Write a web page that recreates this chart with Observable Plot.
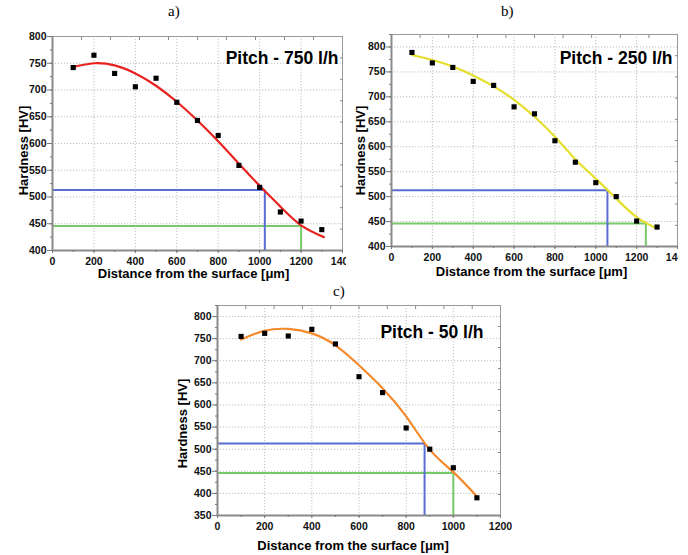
<!DOCTYPE html>
<html>
<head>
<meta charset="utf-8">
<script src="https://cdn.jsdelivr.net/npm/d3@7"></script>
<script src="https://cdn.jsdelivr.net/npm/@observablehq/plot@0.6"></script>
<style>
  html, body { margin: 0; padding: 0; background: #fff; }
  #root { position: relative; width: 688px; height: 555px; overflow: hidden; background: #fff; }
  .panel { position: absolute; overflow: hidden; }
  .tag { position: absolute; font-family: "Liberation Serif", "Times New Roman", serif; font-size: 15px; color: #000; }
</style>
</head>
<body>
<div id="root"></div>
<script>
// ---------- data ----------
const distances = [100, 200, 300, 400, 500, 600, 700, 800, 900, 1000, 1100, 1200, 1300];
const hardnessA = [742, 765, 731, 706, 722, 677, 643, 615, 559, 518, 472, 455, 439];
const hardnessB = [789, 768, 759, 731, 723, 680, 666, 612, 569, 528, 500, 451, 439];
const distancesC = [100, 200, 300, 400, 500, 600, 700, 800, 900, 1000, 1100];
const hardnessC = [755, 762, 756, 771, 738, 664, 628, 548, 500, 458, 390];

// fitted curves
const fitXA = [100, 200, 300, 400, 500, 600, 700, 800, 900, 1000, 1100, 1200, 1310];
const fitYA = [743, 750, 746, 731, 708, 678, 643, 604, 562, 521, 482, 447, 425];
const fitXB = [100, 200, 300, 400, 500, 600, 700, 800, 900, 1000, 1100, 1200, 1300];
const fitYB = [784, 774, 761, 743, 721, 694, 660, 620, 575, 536, 496, 459, 436];
const fitXC = [100, 200, 300, 400, 500, 600, 700, 800, 900, 1000, 1100];
const fitYC = [748, 768, 772, 762, 735, 690, 638, 574, 499, 448, 393];

// guide levels (blue, green)
const guideLevels = [513, 446];
const guideXA = [1025, 1200];
const guideXB = [1057, 1245];
const guideXC = [878, 1000];
const guideColors = ["#5a6dd4", "#78c96a"];

const titles = ["Pitch - 750 l/h", "Pitch - 250 l/h", "Pitch - 50 l/h"];
const tags = ["a)", "b)", "c)"];
const xLabel = "Distance from the surface [μm]";
const yLabel = "Hardness [HV]";

const xTicksAB = [0, 200, 400, 600, 800, 1000, 1200, 1400];
const xTicksC = [0, 200, 400, 600, 800, 1000, 1200];
const yTicksAB = [400, 450, 500, 550, 600, 650, 700, 750, 800];
const yTicksC = [350, 400, 450, 500, 550, 600, 650, 700, 750, 800];

// ---------- drawing ----------
const FONT = "'Liberation Sans', Arial, Helvetica, sans-serif";

function zip(xs, ys) { return xs.map((x, i) => ({x, y: ys[i]})); }

function panel(cfg) {
  const [x0, x1] = cfg.xDomain;
  const [y0, y1] = cfg.yDomain;
  const xMinor = d3.range(x0, x1 + 1, 100);
  const yMinor = d3.range(y0, y1 + 1, 25).filter(v => v <= y1);
  const topTicks = d3.range(1, 10).map(i => x0 + (x1 - x0) * i / 10);
  const rightTicks = d3.range(1, 10).map(i => y0 + (y1 - y0) * i / 10);
  const guides = cfg.guideX.map((gx, i) => ({x: gx, y: guideLevels[i], c: guideColors[i]}));
  const pts = zip(cfg.px, cfg.py);
  const fit = zip(cfg.fx, cfg.fy);
  const fmt = d => String(d);
  const tickFont = {fontSize: 10.5, fontWeight: "bold", fill: "#111", tickFormat: fmt};
  return Plot.plot({
    width: cfg.width, height: cfg.height,
    marginLeft: cfg.ml, marginRight: cfg.mr, marginTop: cfg.mt, marginBottom: cfg.mb,
    style: {fontFamily: FONT, background: "transparent", overflow: "hidden"},
    x: {domain: cfg.xDomain},
    y: {domain: cfg.yDomain},
    marks: [
      Plot.gridX(cfg.xTicks, {stroke: "#bdbdbd", strokeOpacity: 1, strokeDasharray: "1.2,1.8"}),
      Plot.gridY(cfg.yTicks, {stroke: "#bdbdbd", strokeOpacity: 1, strokeDasharray: "1.2,1.8"}),
      Plot.frame({stroke: "#9a9a9a", strokeWidth: 1}),
      Plot.ruleY(guides, {y: "y", x1: x0, x2: "x", stroke: "c", strokeWidth: 2}),
      Plot.ruleX(guides, {x: "x", y1: y0, y2: "y", stroke: "c", strokeWidth: 2}),
      Plot.line(fit, {x: "x", y: "y", stroke: cfg.color, strokeWidth: 2.2, curve: "natural"}),
      Plot.dot(pts, {x: "x", y: "y", symbol: "square", r: 2.9, fill: "#000", stroke: "none"}),
      Plot.ruleX([x0], {stroke: "#8a8a8a", strokeWidth: 2}),
      Plot.ruleY([y0], {stroke: "#8a8a8a", strokeWidth: 2}),
      // bottom axis
      Plot.axisX(cfg.xTicks, {anchor: "bottom", tickSize: 3, tickPadding: 4, stroke: "#777", label: null, ...tickFont}),
      Plot.axisX(xMinor, {anchor: "bottom", tickSize: 2, tickFormat: () => "", stroke: "#777", label: null}),
      // left axis
      Plot.axisY(cfg.yTicks, {anchor: "left", tickSize: 5, tickPadding: 1, stroke: "#777", label: null, ...tickFont}),
      Plot.axisY(yMinor, {anchor: "left", tickSize: 2, tickFormat: () => "", stroke: "#777", label: null}),
      // inward ticks on top / right
      Plot.axisX(topTicks, {anchor: "top", tickSize: -3, tickFormat: () => "", stroke: "#888", label: null}),
      Plot.axisY(rightTicks, {anchor: "right", tickSize: -3, tickFormat: () => "", stroke: "#888", label: null}),
      // texts
      Plot.text([cfg.title], {text: d => d, frameAnchor: "top-right", textAnchor: "end", lineAnchor: "bottom",
        dx: cfg.tdx, dy: cfg.tdy, fontSize: 17.5, fontWeight: "bold", fill: "#000"}),
      Plot.text([xLabel], {text: d => d, frameAnchor: "bottom", textAnchor: "middle", lineAnchor: "bottom",
        dx: cfg.xldx, dy: cfg.xldy, fontSize: 13, fontWeight: "bold", fill: "#000"}),
      Plot.text([yLabel], {text: d => d, frameAnchor: "left", textAnchor: "middle", lineAnchor: "bottom", rotate: -90,
        dx: cfg.yldx, dy: cfg.yldy, fontSize: 13, fontWeight: "bold", fill: "#000"})
    ]
  });
}

const root = document.getElementById("root");
function place(node, left, top, w, h) {
  const div = document.createElement("div");
  div.className = "panel";
  div.style.left = left + "px"; div.style.top = top + "px";
  div.style.width = w + "px"; div.style.height = h + "px";
  div.appendChild(node);
  root.appendChild(div);
}
function tag(text, left, top) {
  const d = document.createElement("div");
  d.className = "tag"; d.textContent = text;
  d.style.left = left + "px"; d.style.top = top + "px";
  root.appendChild(d);
}

const pa = panel({
  width: 346, height: 262, ml: 52, mr: 4, mt: 16, mb: 32,
  xDomain: [0, 1400], yDomain: [400, 800], xTicks: xTicksAB, yTicks: yTicksAB,
  px: distances, py: hardnessA, fx: fitXA, fy: fitYA, guideX: guideXA, color: "#e8231f",
  title: titles[0], tdx: -4, tdy: 27, xldx: -4, xldy: 27, yldx: -25, yldy: 7
});
const pb = panel({
  width: 338, height: 262, ml: 51, mr: 1, mt: 14, mb: 36,
  xDomain: [0, 1400], yDomain: [400, 825], xTicks: xTicksAB, yTicks: yTicksAB,
  px: distances, py: hardnessB, fx: fitXB, fy: fitYB, guideX: guideXB, color: "#e5df2c",
  title: titles[1], tdx: -5, tdy: 29, xldx: -3, xldy: 29, yldx: -27, yldy: 10
});
const pc = panel({
  width: 365, height: 270, ml: 57, mr: 25, mt: 20, mb: 40,
  xDomain: [0, 1200], yDomain: [350, 825], xTicks: xTicksC, yTicks: yTicksC,
  px: distancesC, py: hardnessC, fx: fitXC, fy: fitYC, guideX: guideXC, color: "#f58a2c",
  title: titles[2], tdx: -17, tdy: 32, xldx: -6, xldy: 34, yldx: -31, yldy: 13
});

place(pa, 0, 20, 346, 262);
place(pb, 340, 20, 338, 262);
place(pc, 160, 285, 365, 270);
tag(tags[0], 168, 3);
tag(tags[1], 501, 3);
tag(tags[2], 333, 283);
</script>
</body>
</html>
